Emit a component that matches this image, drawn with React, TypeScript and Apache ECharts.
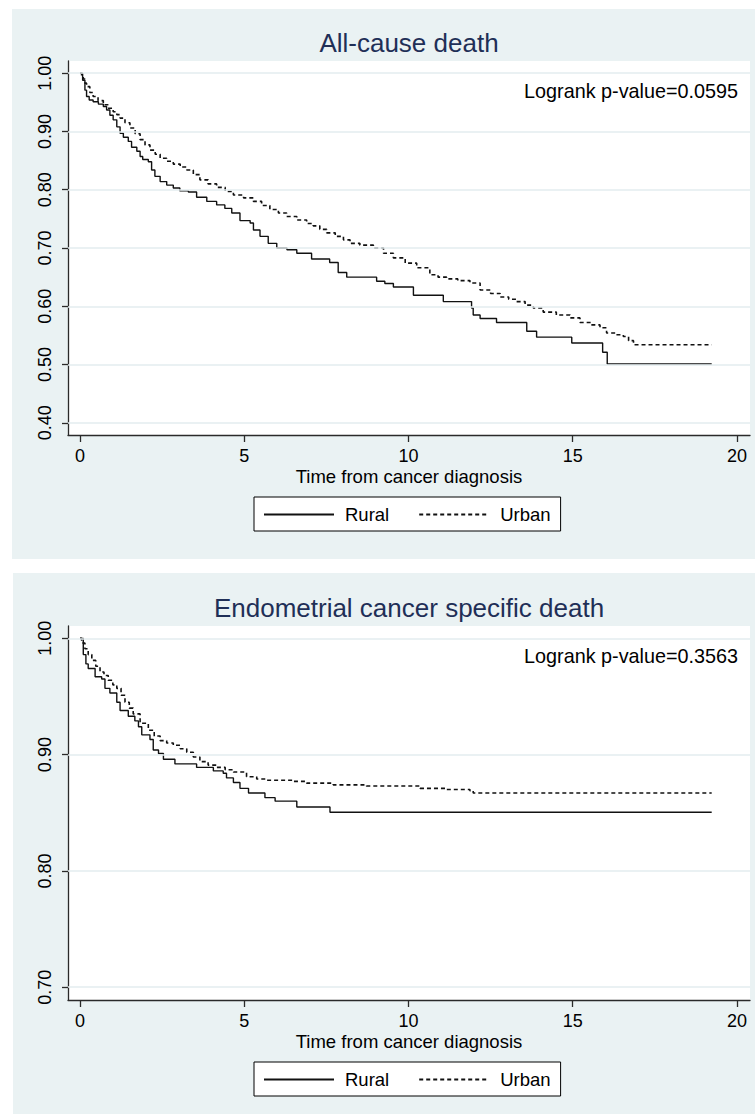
import React, { useEffect, useRef } from "react";
import * as echarts from "echarts";

const panelTitles = ["All-cause death", "Endometrial cancer specific death"];
const logrankTexts = ["Logrank p-value=0.0595", "Logrank p-value=0.3563"];
const seriesNames = ["Rural", "Urban"];
const xAxisTitle = "Time from cancer diagnosis";
const xTicks = [0, 5, 10, 15, 20];
const yTicksAll = [0.4, 0.5, 0.6, 0.7, 0.8, 0.9, 1.0];
const yTicksEc = [0.7, 0.8, 0.9, 1.0];

// All-cause death, Rural (solid)
const ruralAllTime = [0, 0.08, 0.15, 0.2, 0.28, 0.4, 0.56, 0.71, 0.81, 0.91, 1.01, 1.12, 1.22, 1.32, 1.47, 1.57, 1.73, 1.83, 1.91, 2.08, 2.18, 2.28, 2.44, 2.64, 2.84, 3.04, 3.3, 3.55, 3.86, 4.16, 4.41, 4.62, 4.87, 5.18, 5.28, 5.48, 5.73, 5.99, 6.3, 6.6, 7.05, 7.6, 7.86, 8.12, 9.03, 9.28, 9.54, 10.15, 11.06, 11.92, 11.97, 12.18, 12.68, 13.6, 13.9, 14.97, 15.91, 16.05, 19.23];
const ruralAllSurv = [1.0, 0.988, 0.971, 0.96, 0.954, 0.951, 0.947, 0.943, 0.937, 0.928, 0.92, 0.908, 0.897, 0.89, 0.883, 0.873, 0.866, 0.857, 0.852, 0.848, 0.834, 0.823, 0.814, 0.808, 0.803, 0.798, 0.796, 0.787, 0.78, 0.774, 0.768, 0.76, 0.747, 0.743, 0.731, 0.72, 0.708, 0.7, 0.697, 0.691, 0.681, 0.675, 0.658, 0.65, 0.643, 0.639, 0.633, 0.619, 0.608, 0.597, 0.585, 0.579, 0.572, 0.557, 0.547, 0.537, 0.521, 0.501, 0.501];

// All-cause death, Urban (dashed)
const urbanAllTime = [0, 0.05, 0.1, 0.15, 0.2, 0.3, 0.4, 0.55, 0.71, 0.85, 1.01, 1.12, 1.22, 1.37, 1.52, 1.68, 1.83, 1.98, 2.13, 2.29, 2.44, 2.64, 2.84, 3.05, 3.25, 3.45, 3.65, 3.9, 4.16, 4.42, 4.67, 4.98, 5.28, 5.53, 5.78, 6.04, 6.29, 6.6, 6.9, 7.1, 7.3, 7.51, 7.77, 8.02, 8.22, 8.52, 8.93, 9.24, 9.54, 9.9, 10.25, 10.65, 10.9, 11.16, 11.5, 11.87, 12.18, 12.5, 12.79, 13.05, 13.29, 13.55, 13.8, 14.1, 14.5, 14.92, 15.22, 15.55, 15.83, 16.03, 16.3, 16.54, 16.7, 16.85, 19.23];
const urbanAllSurv = [1.0, 0.995, 0.99, 0.983, 0.977, 0.967, 0.96, 0.953, 0.946, 0.94, 0.934, 0.929, 0.923, 0.915, 0.906, 0.896, 0.886, 0.877, 0.868, 0.861, 0.854, 0.849, 0.844, 0.839, 0.834, 0.826, 0.817, 0.81, 0.804, 0.797, 0.791, 0.786, 0.78, 0.773, 0.766, 0.76, 0.754, 0.748, 0.742, 0.738, 0.732, 0.726, 0.72, 0.714, 0.708, 0.705, 0.7, 0.691, 0.683, 0.674, 0.666, 0.654, 0.65, 0.647, 0.644, 0.64, 0.628, 0.622, 0.616, 0.612, 0.608, 0.602, 0.597, 0.59, 0.585, 0.58, 0.572, 0.568, 0.563, 0.554, 0.551, 0.548, 0.541, 0.534, 0.534];

// Endometrial cancer specific death, Rural (solid)
const ruralEcTime = [0, 0.1, 0.18, 0.25, 0.46, 0.66, 0.76, 0.91, 1.12, 1.22, 1.47, 1.67, 1.78, 1.88, 2.13, 2.23, 2.39, 2.54, 2.89, 3.55, 4.06, 4.36, 4.46, 4.67, 4.87, 5.13, 5.63, 5.94, 6.6, 7.61, 19.23];
const ruralEcSurv = [1.0, 0.986, 0.978, 0.974, 0.967, 0.965, 0.957, 0.953, 0.945, 0.938, 0.933, 0.929, 0.924, 0.917, 0.913, 0.904, 0.901, 0.896, 0.892, 0.889, 0.886, 0.884, 0.88, 0.876, 0.871, 0.867, 0.863, 0.86, 0.855, 0.8505, 0.8505];

// Endometrial cancer specific death, Urban (dashed)
const urbanEcTime = [0, 0.05, 0.15, 0.25, 0.36, 0.48, 0.61, 0.73, 0.86, 1.0, 1.12, 1.25, 1.37, 1.5, 1.62, 1.83, 2.08, 2.26, 2.44, 2.64, 2.84, 3.05, 3.25, 3.45, 3.65, 3.9, 4.16, 4.42, 4.67, 5.07, 5.38, 5.68, 6.5, 6.9, 7.71, 8.72, 10.35, 11.16, 11.87, 11.97, 19.23];
const urbanEcSurv = [1.0, 0.996, 0.991, 0.986, 0.981, 0.976, 0.971, 0.968, 0.964, 0.96, 0.957, 0.951, 0.945, 0.94, 0.935, 0.927, 0.921, 0.916, 0.912, 0.91, 0.908, 0.905, 0.902, 0.898, 0.894, 0.891, 0.889, 0.887, 0.885, 0.881, 0.879, 0.878, 0.877, 0.8755, 0.874, 0.873, 0.871, 0.87, 0.869, 0.867, 0.867];

const FONT = "'Liberation Sans', Arial, sans-serif";
const PANEL_BG = "#eaf2f3";
const GRID_LINE = "#e3ecef";
const AXIS_COLOR = "#2a2a2a";
const TITLE_COLOR = "#1f2f57";
const LINE_COLOR = "#111111";

const zip = (t: number[], s: number[]) => t.map((v, i) => [v, s[i]]);

export default function App() {
  const ref = useRef<HTMLDivElement>(null);

  useEffect(() => {
    if (!ref.current) return;
    const chart = echarts.init(ref.current, undefined, { renderer: "svg" });

    const panelOffsets = [0, 565];
    const yRanges = [
      { min: 0.379, max: 1.021, ticks: yTicksAll },
      { min: 0.689, max: 1.0106, ticks: yTicksEc },
    ];

    const grids = panelOffsets.map((off) => ({
      left: 68,
      top: 61 + off,
      width: 682,
      height: 374,
      show: true,
      backgroundColor: "#ffffff",
      borderWidth: 0,
      containLabel: false,
    }));

    const xAxes = panelOffsets.map((_, i) => ({
      type: "value",
      gridIndex: i,
      min: -0.365,
      max: 20.396,
      name: xAxisTitle,
      nameLocation: "middle",
      nameGap: 32,
      nameTextStyle: { fontSize: 18.5, color: "#000", fontFamily: FONT },
      axisLine: { show: true, onZero: false, lineStyle: { color: AXIS_COLOR, width: 1.3 } },
      axisTick: { show: true, length: 7, lineStyle: { color: AXIS_COLOR, width: 1.3 }, customValues: xTicks },
      axisLabel: { show: true, fontSize: 18, color: "#000", fontFamily: FONT, margin: 12, customValues: xTicks },
      splitLine: { show: false },
    }));

    const yAxes = yRanges.map((r, i) => ({
      type: "value",
      gridIndex: i,
      min: r.min,
      max: r.max,
      axisLine: { show: true, onZero: false, lineStyle: { color: AXIS_COLOR, width: 1.3 } },
      axisTick: { show: true, length: 6, lineStyle: { color: AXIS_COLOR, width: 1.3 }, customValues: r.ticks },
      axisLabel: {
        show: true,
        rotate: 90,
        fontSize: 18,
        color: "#000",
        fontFamily: FONT,
        margin: 14,
        customValues: r.ticks,
        formatter: (v: number) => v.toFixed(2),
      },
      splitLine: { show: false },
    }));

    const solid = { color: LINE_COLOR, width: 1.4, type: "solid" as const };
    const dashed = { color: LINE_COLOR, width: 1.6, type: [4, 3] };

    const curve = (name: string, idx: number, data: number[][], ls: any) => ({
      type: "line",
      name,
      xAxisIndex: idx,
      yAxisIndex: idx,
      data,
      step: "end",
      symbol: "none",
      showSymbol: false,
      color: LINE_COLOR,
      itemStyle: { color: LINE_COLOR },
      lineStyle: ls,
      z: 3,
      silent: true,
    });

    const gridSeries = (idx: number, ticks: number[]) => ({
      type: "line",
      name: "gridlines" + idx,
      xAxisIndex: idx,
      yAxisIndex: idx,
      data: [],
      symbol: "none",
      z: 1,
      silent: true,
      markLine: {
        silent: true,
        symbol: ["none", "none"],
        label: { show: false },
        lineStyle: { color: GRID_LINE, width: 1.5, type: "solid" },
        data: ticks.map((v) => ({ yAxis: v })),
      },
    });

    const legends = panelOffsets.map((off) => ({
      data: seriesNames,
      left: 254,
      top: 497 + off,
      orient: "horizontal",
      itemWidth: 70,
      itemHeight: 14,
      itemGap: 29,
      padding: [8, 10, 7, 9],
      backgroundColor: "#ffffff",
      borderColor: "#000000",
      borderWidth: 1,
      borderRadius: 0,
      selectedMode: false,
      itemStyle: { opacity: 0, borderWidth: 0 },
      textStyle: { fontSize: 18.5, color: "#000", fontFamily: FONT, padding: [0, 0, 0, 6] },
    }));

    const graphics: any[] = [
      { type: "rect", shape: { x: 12, y: 9, width: 743, height: 550 }, style: { fill: PANEL_BG }, z: -10, silent: true },
      { type: "rect", shape: { x: 13, y: 573, width: 742, height: 541 }, style: { fill: PANEL_BG }, z: -10, silent: true },
    ];
    panelOffsets.forEach((off, i) => {
      graphics.push({
        type: "text",
        x: 409,
        y: 43 + off,
        style: {
          text: panelTitles[i],
          fontSize: 26,
          fontFamily: FONT,
          fill: TITLE_COLOR,
          textAlign: "center",
          textVerticalAlign: "middle",
        },
        z: 10,
      });
      graphics.push({
        type: "text",
        x: 738,
        y: 91 + off,
        style: {
          text: logrankTexts[i],
          fontSize: 19.8,
          fontFamily: FONT,
          fill: "#000",
          textAlign: "right",
          textVerticalAlign: "middle",
        },
        z: 10,
      });
    });

    chart.setOption({
      animation: false,
      backgroundColor: "#ffffff",
      textStyle: { fontFamily: FONT },
      graphic: { elements: graphics },
      grid: grids,
      xAxis: xAxes,
      yAxis: yAxes,
      legend: legends,
      series: [
        gridSeries(0, yTicksAll),
        gridSeries(1, yTicksEc),
        curve(seriesNames[0], 0, zip(ruralAllTime, ruralAllSurv), solid),
        curve(seriesNames[1], 0, zip(urbanAllTime, urbanAllSurv), dashed),
        curve(seriesNames[0], 1, zip(ruralEcTime, ruralEcSurv), solid),
        curve(seriesNames[1], 1, zip(urbanEcTime, urbanEcSurv), dashed),
      ],
    });

    return () => chart.dispose();
  }, []);

  return (
    <div
      ref={ref}
      style={{ position: "absolute", left: 0, top: 0, width: 755, height: 1114 }}
    />
  );
}
